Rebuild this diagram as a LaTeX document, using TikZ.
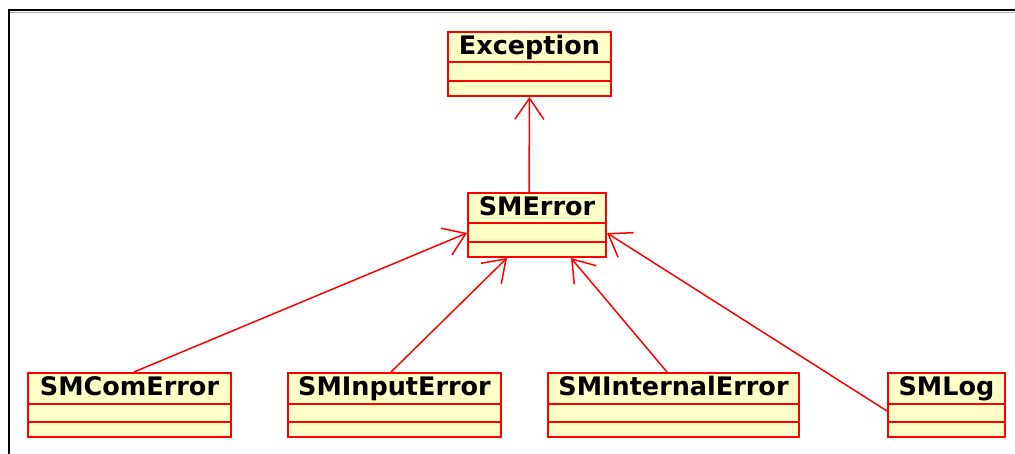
\documentclass[tikz,border=0pt]{standalone}
\usepackage{fontspec}
\setmainfont{DejaVu Sans}
\usetikzlibrary{arrows.meta,calc}
\definecolor{umlfill}{RGB}{255,255,200}
\definecolor{umlred}{RGB}{255,0,0}
\tikzset{
  classbox/.style={draw=umlred, fill=umlfill, line width=2pt, inner sep=0pt, anchor=north west, minimum height=64pt},
  classname/.style={font=\bfseries\fontsize{25.5}{30}\selectfont, text=black, inner sep=0pt, anchor=base},
  divider/.style={draw=umlred, line width=2pt},
  inherit/.style={draw=umlred, line width=1.5pt, -{Straight Barb[length=21pt,width=29pt,line width=1.5pt]}},
}
\newcommand\umlclass[5]{%
  \node[classbox, minimum width=#4pt] (#1) at (#2,#3) {};
  \draw[divider] ([yshift=-31.5pt]#1.north west) -- ([yshift=-31.5pt]#1.north east);
  \draw[divider] ([yshift=16pt]#1.south west) -- ([yshift=16pt]#1.south east);
  \node[classname] (#1-name) at ([yshift=-23.5pt]#1.north) {#5};
}
\begin{document}
\begin{tikzpicture}[x=1pt,y=-1pt]
\useasboundingbox (0,0) rectangle (1015,454);
\draw[line width=1pt, gray!60] (1015,12.2) -- (9.7,12.2) -- (9.7,454);
\draw[line width=2pt, black] (1015,10.5) -- (8.5,10.5) -- (8.5,454);

\umlclass{exc}{447}{31}{163}{Exception}
\umlclass{err}{467}{192}{138}{SMError}
\umlclass{com}{27}{372}{203}{SMComError}
\umlclass{inp}{287}{372}{213}{SMInputError}
\umlclass{int}{547}{372}{251}{SMInternalError}
\umlclass{log}{887}{372}{117}{SMLog}

\draw[inherit] ([xshift=-8pt]err.north) -- (exc.south);
\draw[inherit] ([xshift=4.5pt]com.north) -- ([yshift=-8pt]err.west);
\draw[inherit] ([xshift=-3.5pt]inp.north) -- ([xshift=-30pt]err.south);
\draw[inherit] ([xshift=-6.5pt]int.north) -- ([xshift=34pt]err.south);
\draw[inherit] ([yshift=-6pt]log.west) -- ([yshift=-8pt]err.east);
\end{tikzpicture}
\end{document}
